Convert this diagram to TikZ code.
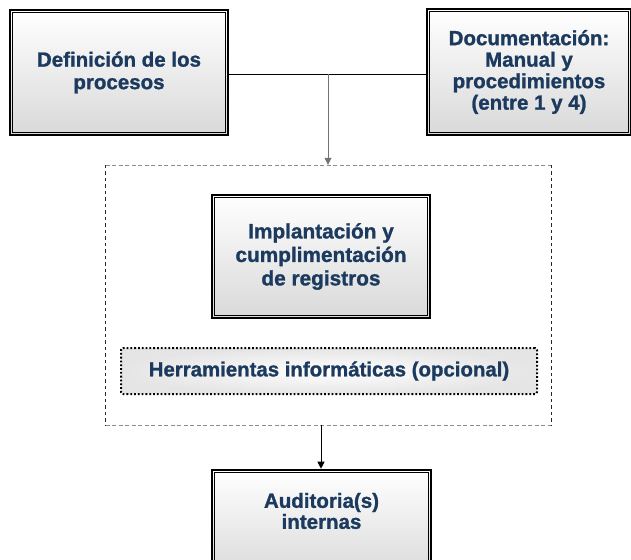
\documentclass[tikz,border=0pt]{standalone}
\usepackage{fontspec}
\setmainfont{Liberation Sans}[BoldFeatures={FakeBold=1.2}]
\usetikzlibrary{arrows.meta,calc}
\definecolor{navy}{HTML}{1B3A5E}
\tikzset{
  mainbox/.style={draw=black, line width=2.6pt, rectangle, top color=white, bottom color=black!15,
    text=navy, font=\bfseries\fontsize{20.5}{22.5}\selectfont, align=center, anchor=center, inner sep=0pt},
  innerline/.style={line width=0.8pt, draw=black},
  lightdash/.style={draw=black!45, line width=0.6pt, dash pattern=on 4pt off 2.5pt},
  darkdash/.style={draw=black!85, line width=0.9pt, dash pattern=on 3.5pt off 3pt},
  toolbox/.style={draw=black, line width=2pt, dash pattern=on 1.8pt off 2pt, rounded corners=2pt,
    inner color=white, outer color=black!10, text=navy, font=\bfseries\fontsize{20.4}{22}\selectfont, anchor=center},
  conn/.style={line width=0.8pt, draw=black},
  tip/.style={-{Triangle[width=7pt,length=7pt]}}
}
\begin{document}
\begin{tikzpicture}[x=1pt,y=-1pt]
\useasboundingbox (0,0) rectangle (631,559);
% outer dashed group
\node[minimum width=445pt, minimum height=260pt, anchor=center] (grp) at (328.5,295) {};
\draw[lightdash] (grp.north west) -- (grp.north east);
\draw[lightdash] (grp.south west) -- (grp.south east);
\draw[darkdash] (grp.north west) -- (grp.south west);
\draw[darkdash] (grp.north east) -- (grp.south east);
% boxes
\node[mainbox, minimum width=218pt, minimum height=125pt] (def) at (119,72.5) {Definición de los\\procesos};
\node[mainbox, minimum width=204pt, minimum height=126pt, font=\bfseries\fontsize{20.5}{21.5}\selectfont] (doc) at (529,72) {Documentación:\\Manual y\\procedimientos\\(entre 1 y 4)};
\node[mainbox, minimum width=218pt, minimum height=123pt, font=\bfseries\fontsize{20.8}{23.5}\selectfont] (imp) at (321,256.5) {Implantación y\\cumplimentación\\de registros};
\node[mainbox, minimum width=219pt, minimum height=108pt] (aud) at (321.5,524) {};
\node[text=navy, font=\bfseries\fontsize{20.5}{21}\selectfont, align=center, anchor=center] (audt) at (321.5,511) {Auditoria(s)\\internas};
\foreach \n in {def,doc,imp,aud}
  \draw[innerline] ([shift={(3.8pt,-3.8pt)}]\n.north west) rectangle ([shift={(-3.8pt,3.8pt)}]\n.south east);
\node[toolbox, minimum width=416pt, minimum height=46pt] (her) at (329,371) {Herramientas informáticas (opcional)};
% connectors
\coordinate (j) at (328,74);
\draw[conn] (j -| def.east) -- (j -| doc.west);
\draw[conn, draw=black!55, tip] (j) -- (j |- grp.north);
\coordinate (b) at (321,425);
\draw[conn, line width=1pt, tip] (b |- grp.south) -- (b |- aud.north);
\end{tikzpicture}
\end{document}
